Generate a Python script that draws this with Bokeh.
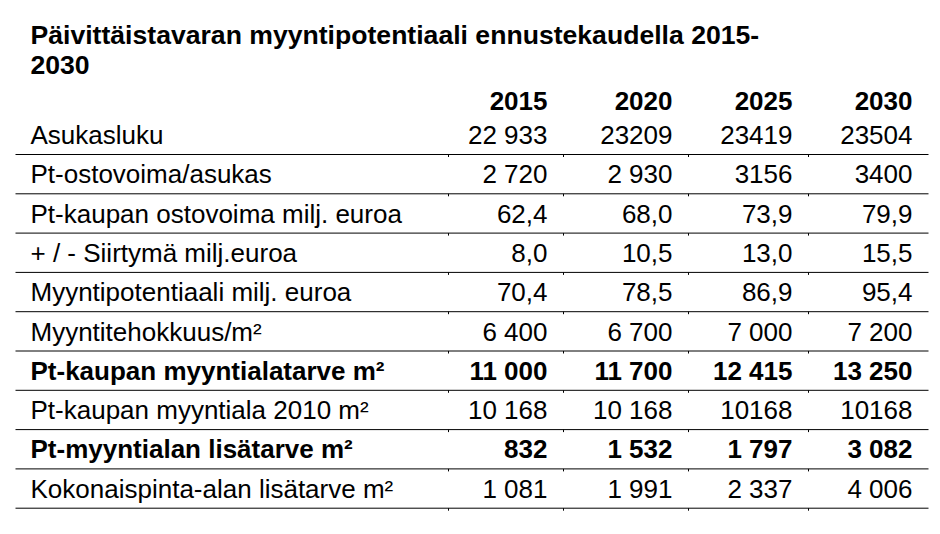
from bokeh.plotting import figure
from bokeh.models import Range1d, ColumnDataSource
from bokeh.embed import file_html
from bokeh.resources import INLINE
from bokeh.core.properties import value

# ---- data ----
title_lines = ["Päivittäistavaran myyntipotentiaali ennustekaudella 2015-", "2030"]
years = ["2015", "2020", "2025", "2030"]
row_labels = [
    "Asukasluku",
    "Pt-ostovoima/asukas",
    "Pt-kaupan ostovoima milj. euroa",
    "+ / - Siirtymä milj.euroa",
    "Myyntipotentiaali milj. euroa",
    "Myyntitehokkuus/m²",
    "Pt-kaupan myyntialatarve m²",
    "Pt-kaupan myyntiala 2010 m²",
    "Pt-myyntialan lisätarve m²",
    "Kokonaispinta-alan lisätarve m²",
]
bold_rows = [False, False, False, False, False, False, True, False, True, False]
v2015 = ["22 933", "2 720", "62,4", "8,0", "70,4", "6 400", "11 000", "10 168", "832", "1 081"]
v2020 = ["23209", "2 930", "68,0", "10,5", "78,5", "6 700", "11 700", "10 168", "1 532", "1 991"]
v2025 = ["23419", "3156", "73,9", "13,0", "86,9", "7 000", "12 415", "10168", "1 797", "2 337"]
v2030 = ["23504", "3400", "79,9", "15,5", "95,4", "7 200", "13 250", "10168", "3 082", "4 006"]
columns = [v2015, v2020, v2025, v2030]

# ---- layout (pixel-like coordinates) ----
FONT = value("Liberation Sans")
FS = "26px"
W, H = 932, 526
LABEL_X = 30
COL_RIGHT = [547, 672, 792, 912]
TICK_X = [448, 563, 688, 808]
TEXT_SHIFT = -9          # renderer places alphabetic baseline slightly low
BASE0 = 143.5 + TEXT_SHIFT
STEP = 39.3
LINE0 = 154.0
LINE_X0, LINE_X1 = 15, 928

p = figure(width=W, height=H, x_range=Range1d(0, W), y_range=Range1d(H, 0),
           x_axis_type=None, y_axis_type=None, toolbar_location=None,
           output_backend="svg", min_border=0, outline_line_color=None)
p.grid.visible = False
p.background_fill_color = "white"
p.border_fill_color = "white"

# title
p.text(x=[LABEL_X, LABEL_X], y=[43 + TEXT_SHIFT, 73 + TEXT_SHIFT], text=title_lines,
       text_font=FONT, text_font_size="26.6px", text_font_style="bold",
       text_color="black", text_align="left", text_baseline="alphabetic")

# header years
p.text(x=COL_RIGHT, y=[109.5 + TEXT_SHIFT] * 4, text=years, text_font=FONT,
       text_font_size=FS, text_font_style="bold", text_color="black",
       text_align="right", text_baseline="alphabetic")

# rows
n = len(row_labels)
ys = [BASE0 + i * STEP for i in range(n)]
for style, flag in (("normal", False), ("bold", True)):
    idx = [i for i in range(n) if bold_rows[i] == flag]
    src = ColumnDataSource(dict(x=[LABEL_X] * len(idx), y=[ys[i] for i in idx],
                                t=[row_labels[i] for i in idx]))
    p.text(x="x", y="y", text="t", source=src, text_font=FONT, text_font_size=FS,
           text_font_style=style, text_color="black", text_align="left",
           text_baseline="alphabetic")
    for c, vals in enumerate(columns):
        src = ColumnDataSource(dict(x=[COL_RIGHT[c]] * len(idx), y=[ys[i] for i in idx],
                                    t=[vals[i] for i in idx]))
        p.text(x="x", y="y", text="t", source=src, text_font=FONT, text_font_size=FS,
               text_font_style=style, text_color="black", text_align="right",
               text_baseline="alphabetic")

# horizontal rules
line_ys = [LINE0 + i * STEP for i in range(n)]
p.segment(x0=[LINE_X0] * n, x1=[LINE_X1] * n, y0=line_ys, y1=line_ys,
          line_color="black", line_width=1)
# small column-border ticks below rules
tx, ty0, ty1 = [], [], []
for ly in line_ys:
    for x in TICK_X:
        tx.append(x); ty0.append(ly); ty1.append(ly + 2.5)
p.segment(x0=tx, x1=tx, y0=ty0, y1=ty1, line_color="black", line_width=1)

open("out.html", "w").write(file_html(p, INLINE))
